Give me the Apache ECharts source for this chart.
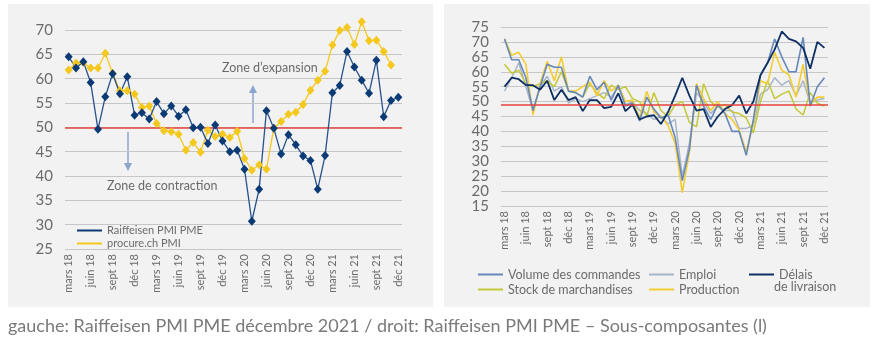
<!DOCTYPE html>
<html>
<head>
<meta charset="utf-8">
<script src="https://cdn.jsdelivr.net/npm/echarts/dist/echarts.min.js"></script>
<style>
  html, body { margin: 0; padding: 0; background: #ffffff; }
  #chart { width: 877px; height: 343px; }
</style>
</head>
<body>
<div id="chart"></div>
<script>
// Monthly categories, March 2018 to December 2021
const months = [
  'mars 18','avr 18','mai 18','juin 18','juil 18','août 18','sept 18','oct 18','nov 18','déc 18',
  'janv 19','févr 19','mars 19','avr 19','mai 19','juin 19','juil 19','août 19','sept 19','oct 19','nov 19','déc 19',
  'janv 20','févr 20','mars 20','avr 20','mai 20','juin 20','juil 20','août 20','sept 20','oct 20','nov 20','déc 20',
  'janv 21','févr 21','mars 21','avr 21','mai 21','juin 21','juil 21','août 21','sept 21','oct 21','nov 21','déc 21'
];

// Left panel: headline indices
const raiffeisenPmiPme = [
  64.5, 62.2, 63.5, 59.2, 49.6, 56.3, 61.0, 56.9, 60.4, 52.5,
  53.0, 51.7, 55.3, 52.8, 54.4, 52.3, 53.6, 49.9, 50.0, 46.7,
  50.5, 47.2, 45.0, 45.3, 41.4, 30.7, 37.3, 53.4, 49.8, 44.5,
  48.5, 46.4, 44.1, 43.2, 37.3, 44.2, 57.1, 58.6, 65.6, 62.4,
  59.7, 57.0, 63.8, 52.2, 55.5, 56.2
];
const procureChPmi = [
  61.8, 63.2, 63.3, 62.2, 62.2, 65.2, 61.1, 57.5, 57.5, 56.8,
  54.1, 54.4, 50.8, 49.3, 49.1, 48.6, 45.3, 46.9, 44.9, 49.4,
  48.1, 48.6, 47.9, 49.2, 43.6, 41.2, 42.3, 41.4, 49.8, 51.2,
  52.7, 53.1, 54.7, 57.6, 59.7, 61.5, 66.9, 69.9, 70.5, 67.0,
  71.7, 67.8, 67.9, 65.6, 62.8
];

// Right panel: sub-components
const volumeCommandes = [
  71, 64, 64, 58, 47, 55, 62.5, 61.5, 61.5, 53.5,
  53, 51.5, 58.5, 54, 56.5, 50.5, 55.5, 48.5, 49.5, 43.5,
  51.5, 47.5, 44.5, 45.5, 38, 23.5, 34, 55.5, 48.5, 44,
  49, 46, 40, 40, 32, 44, 59, 63, 71, 65,
  60, 60, 71.5, 48.5, 55, 58
];
const emploi = [
  53.5, 58, 63, 55, 47, 55, 58.5, 53.5, 55, 49.5,
  51, 50, 51, 52, 53, 51.5, 55, 49, 50, 47,
  46, 44, 45, 42.5, 44, 25, 36, 53, 50, 46,
  48.5, 47, 47, 41, 41, 42, 52.5, 54, 58, 55.5,
  57, 52, 57, 49.5, 50.5, 51
];
const delaisLivraison = [
  55, 58, 57.5, 55.5, 55.5, 54, 57, 50.5, 54, 50.5,
  51.5, 46.8, 50.5, 50.5, 47.8, 48.2, 52.8, 46.8, 49, 44,
  45, 45.5, 42.5, 46.5, 52, 58, 52, 47, 47.5, 41.5,
  45, 47.5, 48.8, 52, 46, 50, 58.8, 63, 67.5, 73.5,
  71, 70.2, 68, 61, 70, 68
];
const stockMarchandises = [
  62.5, 59.5, 60.5, 56, 55, 56, 57, 55, 60, 53.5,
  53, 51.5, 56, 53, 51, 55.5, 54, 55, 51, 50,
  45, 53, 47, 45, 49, 50, 43, 41.5, 56, 50,
  48, 49, 46.5, 46, 44.5, 39.5, 50, 57, 51, 52.5,
  53.5, 47.5, 45.5, 53, 49.5, 48.5
];
const production = [
  71, 65.5, 66.5, 62.5, 45.5, 56, 63.5, 57, 65, 53.5,
  53.5, 55, 56.5, 52, 57, 53.5, 55.5, 50, 50.5, 44.5,
  53.5, 46.5, 45, 42, 36, 19.5, 33, 56, 51, 47,
  50, 46, 44, 40.5, 33, 43, 57, 56, 66.5, 60.5,
  59, 51.5, 62.5, 49, 51.5, 51.5
];

const FONT = 'Lato, "Open Sans", sans-serif';
const TEXT = '#6b6b6b';
const GRIDLINE = '#c6c6c6';
const RED = '#e4433c';
const NAVY = '#0b3a75';
const GOLD = '#f5c81e';
const ARROW = '#8ba5cf';

const chart = echarts.init(document.getElementById('chart'), null, { renderer: 'canvas' });

function catAxis(gridIndex) {
  return {
    gridIndex, type: 'category', data: months, boundaryGap: true,
    axisLine: { show: false }, axisTick: { show: false },
    axisLabel: { interval: 2, rotate: 90, fontSize: 11, color: TEXT, margin: 5, fontFamily: FONT }
  };
}
function valAxis(gridIndex, min, max) {
  return {
    gridIndex, type: 'value', min, max, interval: 5,
    axisLine: { show: false }, axisTick: { show: false },
    splitLine: { lineStyle: { color: GRIDLINE, width: 1 } },
    axisLabel: { fontSize: 15, color: TEXT, margin: 12, fontFamily: FONT }
  };
}
function thinLine(name, data, color, width) {
  return {
    name, type: 'line', xAxisIndex: 1, yAxisIndex: 1, data,
    showSymbol: false, symbol: 'none', clip: false,
    lineStyle: { color, width }, itemStyle: { color }
  };
}
function legendItem(name, left, top, formatter) {
  const item = {
    left, top, icon: 'rect', itemWidth: 25, itemHeight: 2, data: [name],
    textStyle: { fontSize: 12.5, color: TEXT, fontFamily: FONT }
  };
  if (formatter) item.formatter = formatter;
  return item;
}

chart.setOption({
  animation: false,
  backgroundColor: '#ffffff',
  grid: [
    { left: 65, top: 30, width: 337, height: 219 },
    { left: 501, top: 27, width: 327, height: 179 }
  ],
  xAxis: [catAxis(0), catAxis(1)],
  yAxis: [valAxis(0, 25, 70), valAxis(1, 15, 75)],
  legend: [
    {
      orient: 'vertical', left: 72, top: 219, itemGap: 0, icon: 'rect',
      itemWidth: 25, itemHeight: 2,
      data: ['Raiffeisen PMI PME', 'procure.ch PMI'],
      textStyle: { fontSize: 11, color: TEXT, fontFamily: FONT, lineHeight: 13 }
    },
    legendItem('Volume des commandes', 473, 263),
    legendItem('Emploi', 644, 263),
    legendItem('Délais de livraison', 744, 263, () => 'Délais'),
    legendItem('Stock de marchandises', 473, 278),
    legendItem('Production', 644, 278)
  ],
  series: [
    {
      name: 'procure.ch PMI', type: 'line', xAxisIndex: 0, yAxisIndex: 0, data: procureChPmi,
      clip: false, symbol: 'diamond', symbolSize: [8, 9], showAllSymbol: true,
      lineStyle: { color: GOLD, width: 1.3 }, itemStyle: { color: GOLD }
    },
    {
      name: 'Raiffeisen PMI PME', type: 'line', xAxisIndex: 0, yAxisIndex: 0, data: raiffeisenPmiPme,
      clip: false, symbol: 'diamond', symbolSize: [8, 9], showAllSymbol: true,
      lineStyle: { color: '#26518a', width: 1.3 }, itemStyle: { color: NAVY },
      markLine: {
        silent: true, symbol: 'none', label: { show: false }, z: 1,
        lineStyle: { color: RED, width: 1.5, type: 'solid' },
        data: [{ yAxis: 50 }]
      }
    },
    thinLine('Emploi', emploi, '#a9b5c8', 1.5),
    thinLine('Stock de marchandises', stockMarchandises, '#c3c936', 1.5),
    thinLine('Production', production, '#f3cd33', 1.6),
    thinLine('Volume des commandes', volumeCommandes, '#6688bb', 1.6),
    Object.assign(thinLine('Délais de livraison', delaisLivraison, '#0d2f62', 1.8), {
      markLine: {
        silent: true, symbol: 'none', label: { show: false },
        lineStyle: { color: RED, width: 1.5, type: 'solid' },
        data: [{ yAxis: 49 }]
      }
    })
  ],
  graphic: [
    // panel backgrounds
    { type: 'rect', z: -10, shape: { x: 8, y: 4, width: 425, height: 303 }, style: { fill: '#f2f2f2' } },
    { type: 'rect', z: -10, shape: { x: 444, y: 4, width: 426, height: 303 }, style: { fill: '#f2f2f2' } },
    // expansion / contraction annotations
    { type: 'text', left: 222, top: 61, style: { text: 'Zone d’expansion', font: '12.5px ' + FONT, fill: TEXT } },
    { type: 'line', shape: { x1: 253, y1: 123, x2: 253, y2: 92 }, style: { stroke: ARROW, lineWidth: 1.5 } },
    { type: 'polygon', shape: { points: [[249, 93], [257, 93], [253, 85]] }, style: { fill: ARROW } },
    { type: 'text', left: 107, top: 179, style: { text: 'Zone de contraction', font: '12.5px ' + FONT, fill: TEXT } },
    { type: 'line', shape: { x1: 128, y1: 132, x2: 128, y2: 164 }, style: { stroke: ARROW, lineWidth: 1.5 } },
    { type: 'polygon', shape: { points: [[124, 163], [132, 163], [128, 171]] }, style: { fill: ARROW } },
    // second line of the delivery-times legend entry
    { type: 'text', left: 774, top: 280, style: { text: 'de livraison', font: '12.5px ' + FONT, fill: TEXT } },
    // caption
    { type: 'text', left: 8, top: 317,
      style: { text: 'gauche: Raiffeisen PMI PME décembre 2021 / droit: Raiffeisen PMI PME – Sous-composantes (l)',
               font: '18px ' + FONT, fill: '#7a7a7a' } }
  ]
});
</script>
</body>
</html>
